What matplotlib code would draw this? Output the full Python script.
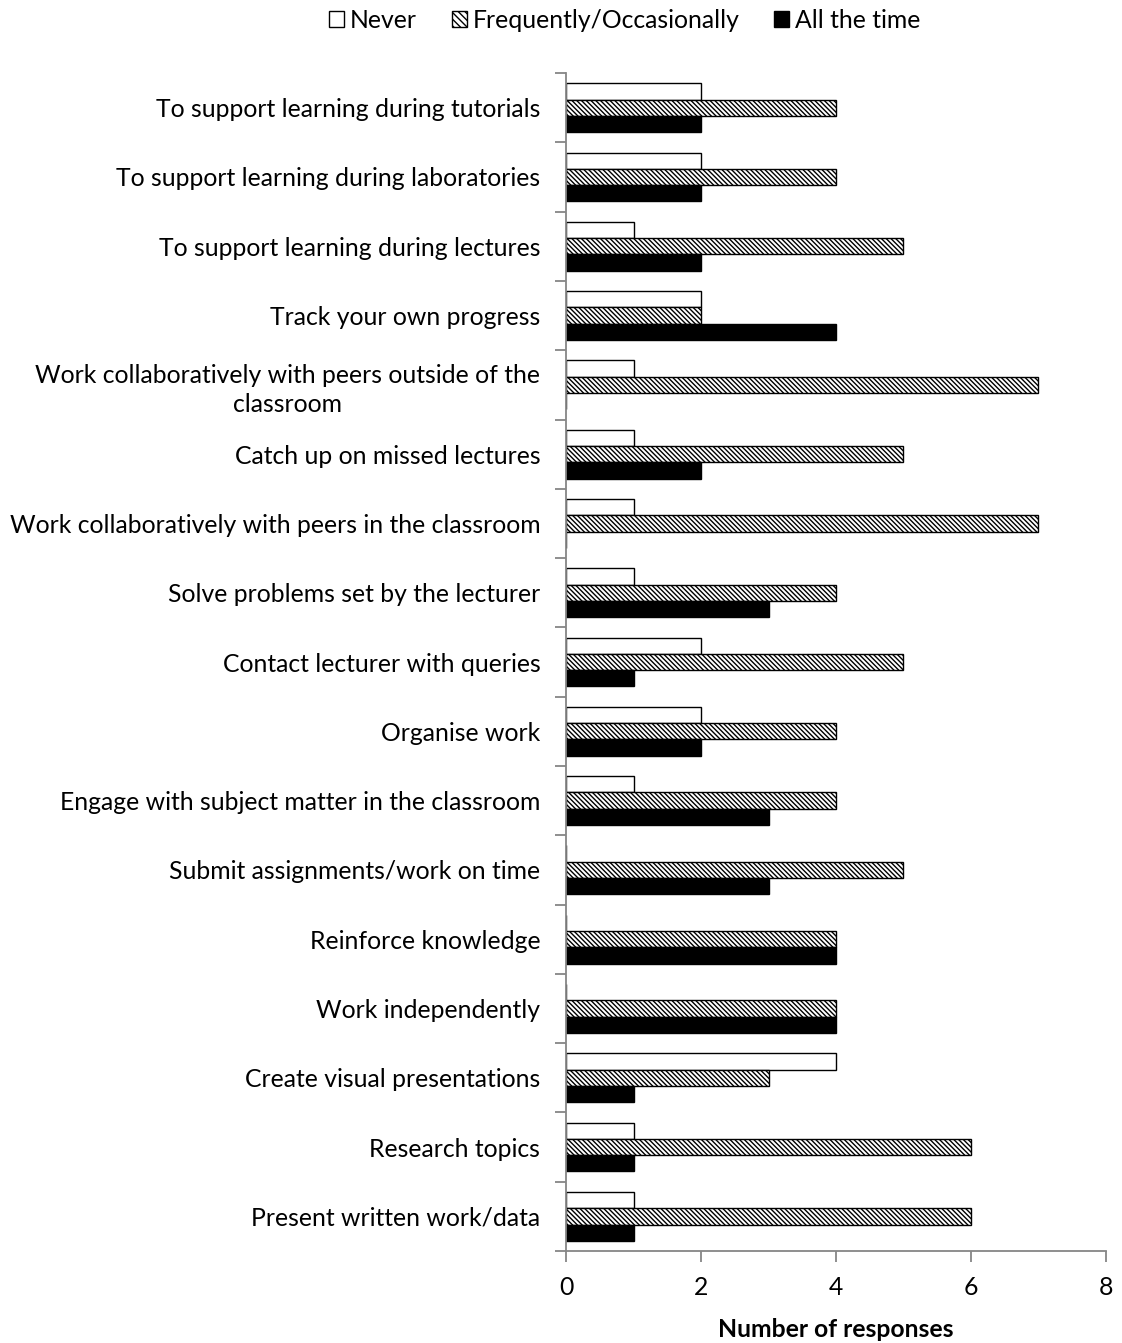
import matplotlib
matplotlib.use("Agg")
import matplotlib.pyplot as plt
import numpy as np
from matplotlib.patches import Patch

plt.rcParams['font.family'] = ['Lato', 'DejaVu Sans']
plt.rcParams['hatch.linewidth'] = 1.0

categories = [
    "To support learning during tutorials",
    "To support learning during laboratories",
    "To support learning during lectures",
    "Track your own progress",
    "Work collaboratively with peers outside of the\nclassroom",
    "Catch up on missed lectures",
    "Work collaboratively with peers in the classroom",
    "Solve problems set by the lecturer",
    "Contact lecturer with queries",
    "Organise work",
    "Engage with subject matter in the classroom",
    "Submit assignments/work on time",
    "Reinforce knowledge",
    "Work independently",
    "Create visual presentations",
    "Research topics",
    "Present written work/data",
]
never = [2, 2, 1, 2, 1, 1, 1, 1, 2, 2, 1, 0, 0, 0, 4, 1, 1]
frequent = [4, 4, 5, 2, 7, 5, 7, 4, 5, 4, 4, 5, 4, 4, 3, 6, 6]
all_time = [2, 2, 2, 4, 0, 2, 0, 3, 1, 2, 3, 3, 4, 4, 1, 1, 1]
series_names = ["Never", "Frequently/Occasionally", "All the time"]
xticks = [0, 2, 4, 6, 8]

FS = 17.8
HATCH = '\\' * 7

fig = plt.figure(figsize=(11.22, 13.43), dpi=100)
ax = fig.add_axes([0.5045, 0.0685, 0.4812, 0.8771])

y = np.arange(len(categories))
h = 0.235
ax.barh(y - h, never, height=h, color='white', edgecolor='black', linewidth=1.0)
ax.barh(y, frequent, height=h, color='white', edgecolor='black', linewidth=1.0, hatch=HATCH)
ax.barh(y + h, all_time, height=h, color='black', edgecolor='black', linewidth=1.0)

ax.set_ylim(len(categories) - 0.5, -0.5)
ax.set_xlim(0, 8)
ax.set_xticks(xticks)
ax.set_xticklabels([str(v) for v in xticks], fontsize=FS)

ax.set_yticks(y)
ax.set_yticklabels(categories, fontsize=FS, multialignment='center', linespacing=1.3)
ax.tick_params(axis='y', which='major', length=0, pad=18.5)
ax.set_yticks(np.arange(len(categories) + 1) - 0.5, minor=True)
ax.tick_params(axis='y', which='minor', length=8, width=1.3, color='#868686')
ax.tick_params(axis='x', which='major', length=8, width=1.3, color='#868686', pad=10)

for s in ['top', 'right']:
    ax.spines[s].set_visible(False)
for s in ['left', 'bottom']:
    ax.spines[s].set_color('#868686')
    ax.spines[s].set_linewidth(1.3)

ax.set_xlabel("Number of responses", fontsize=FS, fontweight='bold', labelpad=14)

handles = [
    Patch(facecolor='white', edgecolor='black', linewidth=1.0),
    Patch(facecolor='white', edgecolor='black', linewidth=1.0, hatch='\\' * 5),
    Patch(facecolor='black', edgecolor='black', linewidth=1.0),
]
fig.legend(handles, series_names, loc='center', bbox_to_anchor=(0.557, 0.985), ncol=3,
           frameon=False, fontsize=FS, handlelength=0.6, handleheight=0.6,
           handletextpad=0.25, columnspacing=1.4)

fig.savefig("out.png", dpi=100)
